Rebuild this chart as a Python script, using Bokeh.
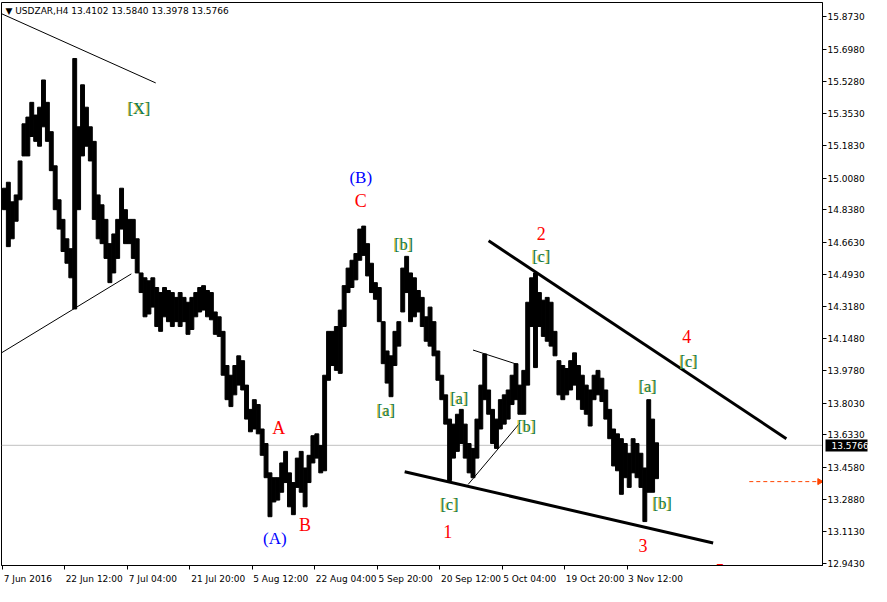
import numpy as np
from bokeh.plotting import figure
from bokeh.models import Range1d, FixedTicker, Label, NumeralTickFormatter, LinearAxis
from bokeh.core.properties import value
from bokeh.embed import file_html
from bokeh.resources import INLINE

# ---------------- data ----------------
symbol = "USDZAR,H4"
last_ohlc = ["13.4102", "13.5840", "13.3978", "13.5766"]
last_close = 13.5766
order_level = 13.382

date_tick_bars = [0, 64, 128, 192, 256, 320, 384, 448, 512, 576, 640]
date_tick_labels = ["7 Jun 2016", "22 Jun 12:00", "7 Jul 04:00", "21 Jul 20:00",
                    "5 Aug 12:00", "22 Aug 04:00", "5 Sep 20:00", "20 Sep 12:00",
                    "5 Oct 04:00", "19 Oct 20:00", "3 Nov 12:00"]
price_ticks = [15.873, 15.698, 15.528, 15.353, 15.183, 15.008, 14.838, 14.663,
               14.493, 14.318, 14.148, 13.978, 13.803, 13.633, 13.458, 13.288,
               13.113, 12.943]

bars_per_bucket = 4
highs = [14.954, 14.986, 14.881, 14.918, 15.100, 15.299, 15.335, 15.414, 15.346, 15.388,
         15.534, 15.414, 15.257, 15.074, 14.892, 14.787, 14.683, 14.630, 15.649, 15.283,
         15.508, 15.388, 15.283, 15.205, 14.918, 14.865, 14.787, 14.657, 14.709, 14.787,
         14.954, 14.839, 14.787, 14.787, 14.683, 14.500, 14.474, 14.458, 14.474, 14.422,
         14.395, 14.422, 14.406, 14.395, 14.369, 14.395, 14.369, 14.343, 14.369, 14.395,
         14.422, 14.432, 14.406, 14.395, 14.291, 14.265, 14.187, 14.004, 13.952, 14.004,
         14.056, 14.030, 13.899, 13.769, 13.821, 13.795, 13.664, 13.586, 13.429, 13.403,
         13.403, 13.482, 13.544, 13.429, 13.377, 13.508, 13.544, 13.455, 13.523, 13.628,
         13.638, 13.576, 13.952, 14.187, 14.187, 14.213, 14.301, 14.432, 14.526, 14.568,
         14.604, 14.735, 14.751, 14.657, 14.552, 14.448, 14.422, 14.239, 14.082, 14.056,
         14.187, 14.239, 14.526, 14.589, 14.500, 14.474, 14.406, 14.369, 14.265, 14.317,
         14.239, 14.082, 13.952, 13.847, 13.717, 13.690, 13.743, 13.769, 13.690, 13.586,
         13.560, 13.717, 13.899, 14.066, 13.873, 13.769, 13.717, 13.821, 13.847, 13.873,
         13.952, 14.014, 13.899, 13.978, 14.343, 14.474, 14.500, 14.395, 14.354, 14.369,
         14.343, 14.187, 14.030, 14.004, 13.988, 14.030, 14.072, 14.004, 13.952, 13.899,
         13.873, 13.952, 13.978, 13.936, 13.873, 13.769, 13.664, 13.638, 13.612, 13.586,
         13.534, 13.612, 13.586, 13.534, 13.455, 13.821, 13.717, 13.590]
lows = [14.839, 14.641, 14.683, 14.777, 14.892, 15.127, 15.127, 15.231, 15.205, 15.179,
        15.283, 15.205, 15.048, 14.839, 14.735, 14.615, 14.552, 14.474, 14.307, 14.839,
        15.127, 15.179, 15.100, 14.787, 14.683, 14.657, 14.578, 14.448, 14.500, 14.578,
        14.735, 14.657, 14.657, 14.578, 14.500, 14.395, 14.265, 14.280, 14.317, 14.213,
        14.187, 14.265, 14.239, 14.213, 14.239, 14.213, 14.239, 14.171, 14.197, 14.265,
        14.291, 14.301, 14.265, 14.249, 14.171, 14.160, 13.952, 13.821, 13.784, 13.847,
        13.899, 13.873, 13.717, 13.649, 13.664, 13.638, 13.523, 13.403, 13.194, 13.273,
        13.283, 13.325, 13.377, 13.247, 13.205, 13.351, 13.325, 13.247, 13.377, 13.482,
        13.508, 13.429, 13.440, 13.925, 14.004, 13.978, 13.962, 14.213, 14.395, 14.422,
        14.463, 14.568, 14.594, 14.484, 14.395, 14.359, 14.239, 14.014, 13.910, 13.837,
        14.004, 14.108, 14.291, 14.395, 14.239, 14.265, 14.291, 14.213, 14.134, 14.108,
        14.056, 13.925, 13.821, 13.690, 13.388, 13.508, 13.544, 13.586, 13.508, 13.429,
        13.403, 13.508, 13.664, 13.821, 13.743, 13.586, 13.560, 13.664, 13.690, 13.717,
        13.795, 13.821, 13.743, 13.743, 13.899, 14.213, 13.993, 14.213, 14.160, 14.134,
        14.108, 14.056, 13.847, 13.821, 13.847, 13.873, 13.899, 13.821, 13.769, 13.743,
        13.680, 13.821, 13.847, 13.811, 13.717, 13.612, 13.466, 13.440, 13.314, 13.403,
        13.351, 13.429, 13.403, 13.351, 13.168, 13.325, 13.325, 13.398]

# trend lines drawn by the analyst (bar index, price)
line_x0 = [-1, -1, 498, 412, 482, 477]
line_y0 = [15.889, 14.072, 14.672, 13.435, 14.087, 13.367]
line_x1 = [157, 132, 803, 728, 528, 530]
line_y1 = [15.518, 14.495, 13.612, 13.053, 14.009, 13.696]
line_widths = [1, 1, 3, 3, 1, 1]

# wave labels
red_text = ["C", "2", "4", "A", "B", "1", "3", "5"]
red_bar = [367, 552, 701, 283, 310, 456, 656, 735]
red_price = [14.886, 14.714, 14.160, 13.670, 13.147, 13.116, 13.038, 12.905]

blue_text = ["(B)", "(A)"]
blue_bar = [367, 279]
blue_price = [15.012, 13.079]

green_text = ["[X]", "[b]", "[c]", "[c]", "[a]", "[a]", "[a]", "[b]", "[b]", "[c]"]
green_bar = [140, 411, 552, 703, 661, 393, 468, 537, 676, 458]
green_price = [15.382, 14.651, 14.589, 14.025, 13.894, 13.764, 13.826, 13.675, 13.267, 13.262]

# ---------------- figure ----------------
x_start, x_end = -1, 840
y_start, y_end = 12.9326, 15.949
W, H = 871, 586

p = figure(width=W, height=H, output_backend="svg", toolbar_location=None,
           x_range=Range1d(x_start, x_end), y_range=Range1d(y_start, y_end),
           y_axis_location="right", min_border_left=1, min_border_top=2,
           min_border_right=0, min_border_bottom=0)
p.background_fill_color = "white"
p.border_fill_color = "white"
p.outline_line_color = "black"
p.outline_line_width = 1
p.grid.visible = False

axis_font = "DejaVu Sans"
axis_size = "9px"

# ---- price scale (right)
yax = p.yaxis[0]
yax.ticker = FixedTicker(ticks=price_ticks)
yax.formatter = NumeralTickFormatter(format="0.0000")
yax.major_label_text_font = axis_font
yax.major_label_text_font_size = axis_size
yax.major_label_text_color = "black"
yax.major_tick_out = 4
yax.major_tick_in = 0
yax.minor_tick_out = 0
yax.minor_tick_in = 0
yax.major_label_standoff = 1
yax.axis_label_standoff = 0
yax.axis_line_color = "black"

# current price tag: a thick black tick reaching back over the scale + white label
tag_axis = LinearAxis(ticker=FixedTicker(ticks=[last_close]),
                      formatter=NumeralTickFormatter(format="0.0000"),
                      axis_line_color=None,
                      major_tick_in=42, major_tick_out=0,
                      major_tick_line_width=12, major_tick_line_color="black",
                      minor_tick_in=0, minor_tick_out=0,
                      major_label_standoff=-36, axis_label_standoff=0,
                      major_label_text_color="white",
                      major_label_text_font=axis_font,
                      major_label_text_font_size=axis_size)
p.add_layout(tag_axis, "right")

# ---- time scale (bottom): tick marks as minor ticks at the bar positions,
# labels (left aligned after each tick, as in the terminal) as major ticks
char_w = {"0": .636, "1": .636, "2": .636, "3": .636, "4": .636, "5": .636,
          "6": .636, "7": .636, "8": .636, "9": .636, " ": .318, ":": .337,
          "J": .295, "u": .634, "n": .634, "l": .278, "A": .684, "g": .635,
          "S": .635, "e": .615, "p": .635, "O": .787, "c": .550, "t": .392,
          "N": .748, "o": .612, "v": .592}
frame_w_est = W - 1 - 47
bars_per_px = (x_end - x_start) / frame_w_est
label_centers = []
for b, t in zip(date_tick_bars, date_tick_labels):
    w_px = sum(char_w.get(ch, 0.6) for ch in t) * 9
    label_centers.append(int(round(b + (1 + w_px / 2) * bars_per_px)))

xax = p.xaxis[0]
xax.ticker = FixedTicker(ticks=label_centers, minor_ticks=date_tick_bars)
xax.major_label_overrides = {c: t for c, t in zip(label_centers, date_tick_labels)}
xax.major_label_text_font = axis_font
xax.major_label_text_font_size = axis_size
xax.major_label_text_color = "black"
xax.major_tick_out = 0
xax.major_tick_in = 0
xax.minor_tick_out = 4
xax.minor_tick_in = 0
xax.major_label_standoff = 4
xax.axis_label_standoff = 0
xax.axis_line_color = "black"

# last price line
p.line([x_start, x_end], [last_close, last_close], line_color="#C0C0C0", line_width=1)

# price bars (high-low range of each group of H4 bars)
n = len(highs)
left = np.arange(n) * bars_per_bucket
p.quad(left=left, right=left + bars_per_bucket, top=highs, bottom=lows,
       fill_color="black", line_color="black", line_width=1)

# trend lines
for x0, y0, x1, y1, w in zip(line_x0, line_y0, line_x1, line_y1, line_widths):
    p.line([x0, x1], [y0, y1], line_color="black", line_width=w)

# pending order level
p.line([765, 836], [order_level, order_level], line_color="#FF4500",
       line_width=1, line_dash="4 3")
p.scatter([837], [order_level], marker="triangle", angle=-np.pi / 2,
          size=6, fill_color="#FF4500", line_color="#FF4500")

serif = value("Liberation Serif")
p.text(x=red_bar, y=red_price, text=red_text, text_color="#FF0000",
       text_font=serif, text_font_size="18px", text_align="center",
       text_baseline="middle")
p.text(x=blue_bar, y=blue_price, text=blue_text, text_color="#0000FF",
       text_font=serif, text_font_size="17px", text_align="center",
       text_baseline="middle")
p.text(x=green_bar, y=green_price, text=green_text, text_color="#D4B800",
       text_alpha=0.8, x_offset=-1, text_font=serif, text_font_size="16px",
       text_align="center", text_baseline="middle")
p.text(x=green_bar, y=green_price, text=green_text, text_color="#0A7A50",
       text_font=serif, text_font_size="16px", text_align="center",
       text_baseline="middle")

# title
p.add_layout(Label(x=x_start, y=y_end, x_offset=4, y_offset=-3,
                   text="\u25BC " + symbol + "  " + " ".join(last_ohlc),
                   text_align="left", text_baseline="top",
                   text_font=axis_font, text_font_size=axis_size, text_color="black"))

open("out.html", "w").write(file_html(p, INLINE))
